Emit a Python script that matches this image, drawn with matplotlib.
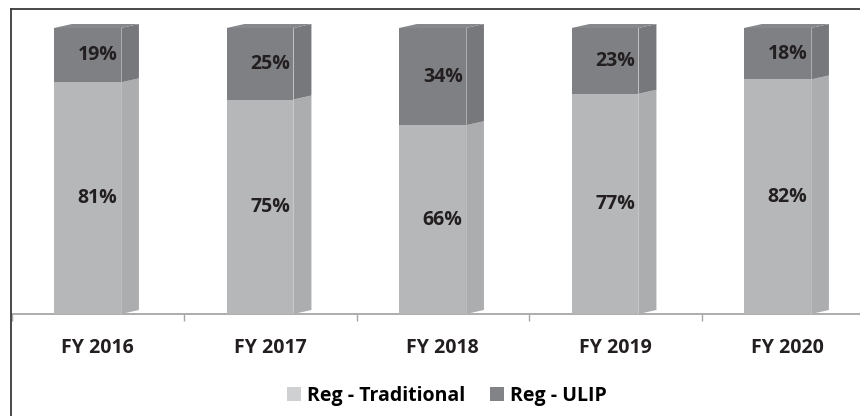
import matplotlib.pyplot as plt
from matplotlib.patches import Polygon, Patch
from matplotlib.lines import Line2D

# data
years = ['FY 2016', 'FY 2017', 'FY 2018', 'FY 2019', 'FY 2020']
traditional = [81, 75, 66, 77, 82]
ulip = [19, 25, 34, 23, 18]

W, H = 860, 416
FONT = ['Open Sans', 'DejaVu Sans']
TXT = '#231f20'
FS = 14

# colours (front, side, top)
TRAD = ('#b6b7b9', '#acadaf', '#bcbdbf')
ULIP = ('#7f8083', '#77787b', '#87888b')
TRAD_LEG = '#cfd0d2'
ULIP_LEG = '#828386'

plt.rcParams['font.family'] = FONT

fig = plt.figure(figsize=(W / 100, H / 100), dpi=100)
fig.patch.set_facecolor('white')

# axes placed in pixel units, runs off the right edge like the reference
ax_left, ax_right = 11.5, 874.0
base_y, top_y = 314.0, 28.0
ax = fig.add_axes([ax_left / W, (H - base_y) / H, (ax_right - ax_left) / W, (base_y - top_y) / H])
ax.set_xlim(0, len(years))
ax.set_ylim(0, 100)

px_x = len(years) / (ax_right - ax_left)
px_y = 100 / (base_y - top_y)
dx = 18 * px_x
dy = 4 * px_y

front_off = 0.2464
front_w = 0.388


def box(x0, x1, y0, y1, cols, top=False):
    front, side, topc = cols
    ax.add_patch(Polygon([(x0, y0), (x1, y0), (x1, y1), (x0, y1)], closed=True,
                         facecolor=front, edgecolor='none', clip_on=False, zorder=3))
    ax.add_patch(Polygon([(x1, y0), (x1 + dx, y0 + dy), (x1 + dx, y1 + dy), (x1, y1)], closed=True,
                         facecolor=side, edgecolor='none', clip_on=False, zorder=3))
    ax.plot([x1, x1], [y0, y1], color='#c4c5c7', lw=0.5, zorder=4, clip_on=False)
    if top:
        ax.add_patch(Polygon([(x0, y1), (x1, y1), (x1 + dx, y1 + dy), (x0 + dx, y1 + dy)], closed=True,
                             facecolor=topc, edgecolor='none', clip_on=False, zorder=3))


for i, (t, u) in enumerate(zip(traditional, ulip)):
    x0 = i + front_off
    x1 = x0 + front_w
    box(x0, x1, 0, t, TRAD)
    box(x0, x1, t, t + u, ULIP, top=True)
    cx = i + 0.5
    ax.text(cx, t / 2, f'{t}%', ha='center', va='center', fontsize=FS,
            fontweight='bold', color=TXT, zorder=5)
    ax.text(cx, t + u / 2, f'{u}%', ha='center', va='center', fontsize=FS,
            fontweight='bold', color=TXT, zorder=5)

# axis styling
for s in ['top', 'right', 'left']:
    ax.spines[s].set_visible(False)
ax.spines['bottom'].set_color('#a6a6a6')
ax.spines['bottom'].set_linewidth(1.3)
ax.spines['bottom'].set_zorder(2)
ax.set_yticks([])
ax.set_xticks([i + 0.5 for i in range(len(years))])
ax.set_xticklabels(years, fontsize=FS, fontweight='bold', color=TXT)
ax.tick_params(axis='x', which='major', length=0, pad=17)
ax.set_xticks(list(range(len(years) + 1)), minor=True)
ax.tick_params(axis='x', which='minor', length=5, color='#a6a6a6', width=1)
ax.patch.set_alpha(0)

# outer frame (top and left edge visible)
fig.add_artist(Line2D([10.5 / W, 1.0], [1 - 8.5 / H, 1 - 8.5 / H], color='#3a3a3a', lw=1.3,
                      transform=fig.transFigure))
fig.add_artist(Line2D([10.5 / W, 10.5 / W], [1 - 8.5 / H, 0], color='#3a3a3a', lw=1.3,
                      transform=fig.transFigure))

handles = [Patch(facecolor=TRAD_LEG, edgecolor='none', label='Reg - Traditional'),
           Patch(facecolor=ULIP_LEG, edgecolor='none', label='Reg - ULIP')]
fig.legend(handles=handles, loc='center', bbox_to_anchor=(447 / W, 1 - 396 / H), ncol=2,
           frameon=False, prop={'family': FONT, 'weight': 'bold', 'size': FS},
           handlelength=0.7, handleheight=0.7, handletextpad=0.3, columnspacing=1.3)

fig.savefig('out.png', dpi=100)
